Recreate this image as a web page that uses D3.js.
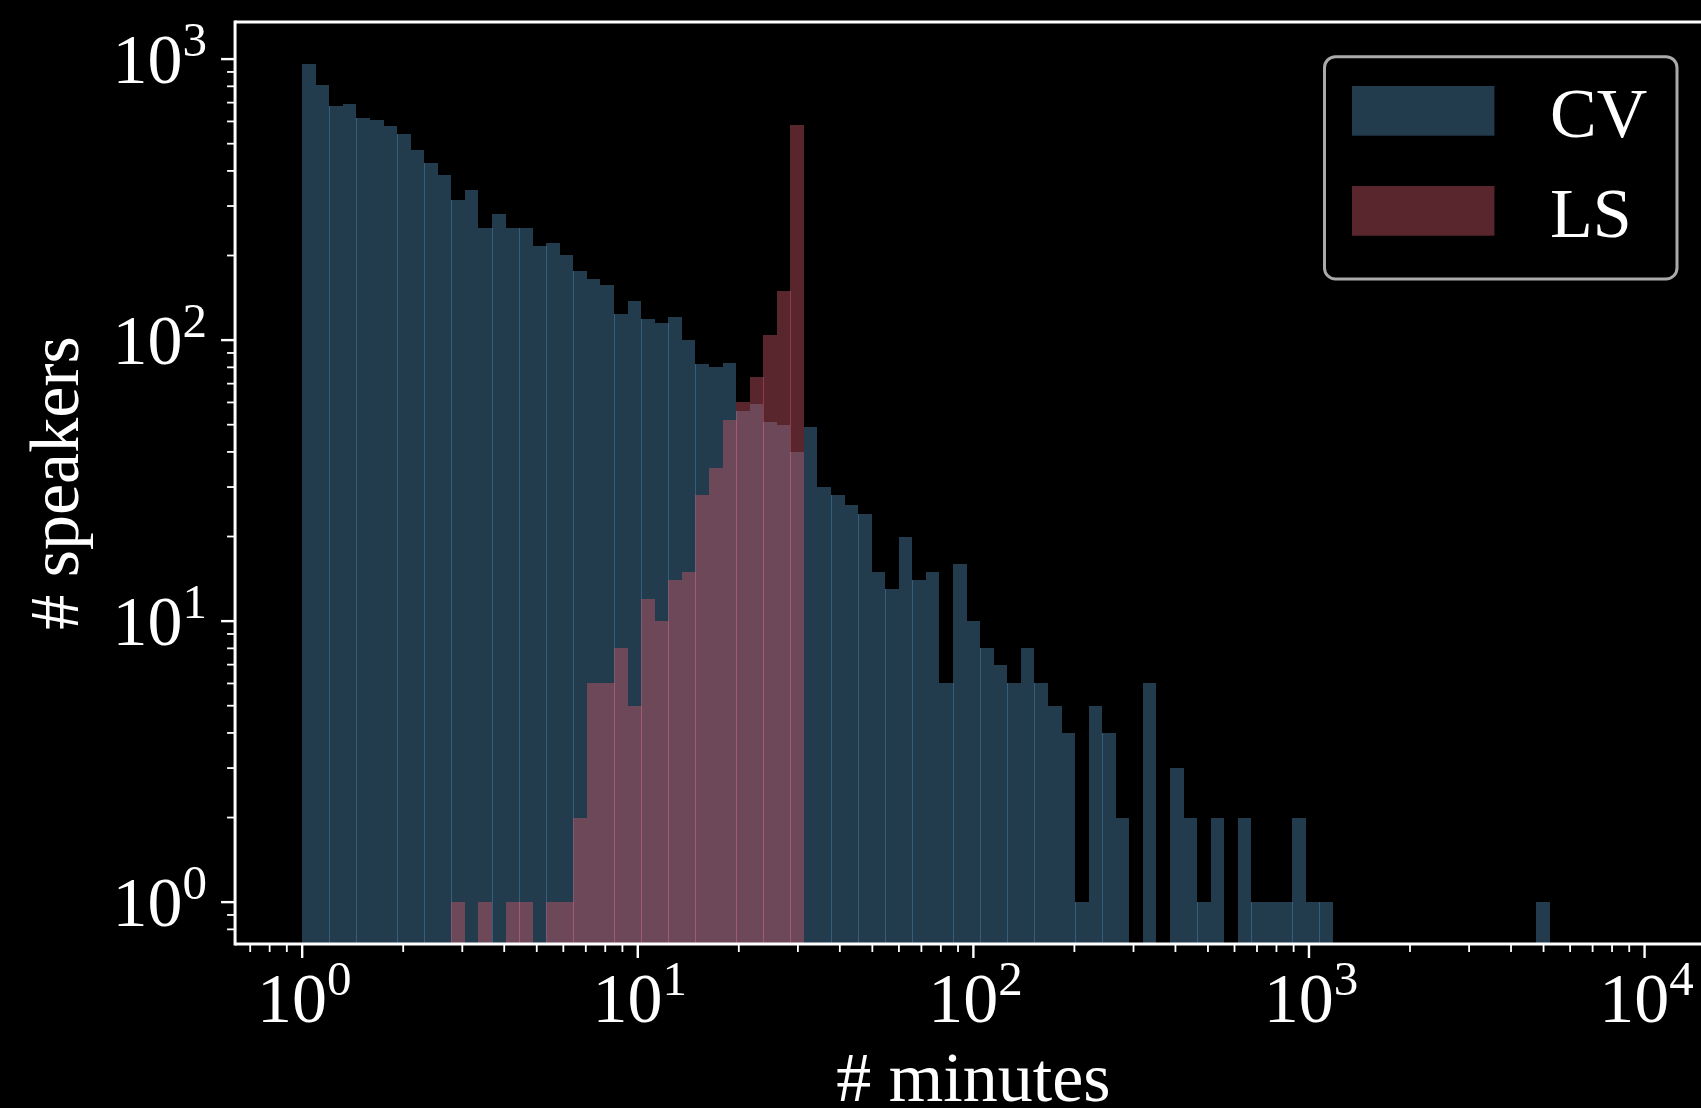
<!DOCTYPE html>
<html>
<head>
<meta charset="utf-8">
<script src="https://cdn.jsdelivr.net/npm/d3@7/dist/d3.min.js"></script>
<style>
  html, body { margin: 0; padding: 0; background: #000; }
  svg { display: block; }
  text { font-family: "Liberation Serif", "Times New Roman", serif; fill: #fff; }
</style>
</head>
<body>
<svg id="chart" width="1701" height="1108"></svg>
<script>
// ---- data ----
// histogram bins: np.logspace(0, 4, 100) -> 99 log-spaced bins from 1 to 10^4 minutes
const BIN_COUNT = 99;
const binEdges = d3.range(BIN_COUNT + 1).map(k => Math.pow(10, 4 * k / BIN_COUNT));

// # speakers per bin, CV
const cvCounts = [
  961, 809, 681, 692, 617, 607, 578, 541, 475, 427,
  387, 315, 342, 250, 281, 250, 250, 216, 221, 201,
  176, 165, 157, 124, 138, 119, 115, 121, 100, 82,
  80, 83, 56, 59, 51, 50, 40, 49, 30, 28,
  26, 24, 15, 13, 20, 14, 15, 6, 16, 10,
  8, 7, 6, 8, 6, 5, 4, 1, 5, 4,
  2, 0, 6, 0, 3, 2, 1, 2, 0, 2,
  1, 1, 1, 2, 1, 1, 0, 0, 0, 0,
  0, 0, 0, 0, 0, 0, 0, 0, 0, 0,
  0, 1, 0, 0, 0, 0, 0, 0, 0
];
// # speakers per bin, LS
const lsCounts = [
  0, 0, 0, 0, 0, 0, 0, 0, 0, 0,
  0, 1, 0, 1, 0, 1, 1, 0, 1, 1,
  2, 6, 6, 8, 5, 12, 10, 14, 15, 28,
  35, 52, 60, 74, 104, 149, 583, 0, 0, 0,
  0, 0, 0, 0, 0, 0, 0, 0, 0, 0,
  0, 0, 0, 0, 0, 0, 0, 0, 0, 0,
  0, 0, 0, 0, 0, 0, 0, 0, 0, 0,
  0, 0, 0, 0, 0, 0, 0, 0, 0, 0,
  0, 0, 0, 0, 0, 0, 0, 0, 0, 0,
  0, 0, 0, 0, 0, 0, 0, 0, 0
];
const seriesNames = ["CV", "LS"];
const xTickExponents = [0, 1, 2, 3, 4];
const yTickExponents = [0, 1, 2, 3];
const xLabel = "# minutes";
const yLabel = "# speakers";

// ---- layout ----
const W = 1701, H = 1108;
const pLeft = 235.06, pRight = 1711.7, pTop = 22, pBottom = 944;
const FONT = 70, SUP = 49;

const svg = d3.select("#chart");
svg.append("rect").attr("width", W).attr("height", H).attr("fill", "#000");

const x = d3.scaleLog().domain([Math.pow(10, -0.2), Math.pow(10, 4.2)]).range([pLeft, pRight]);
const y = d3.scaleLog().domain([Math.pow(10, -0.149), Math.pow(10, 3.132)]).range([pBottom, pTop]);

svg.append("clipPath").attr("id", "plotclip")
  .append("rect").attr("x", pLeft).attr("y", pTop).attr("width", pRight - pLeft).attr("height", pBottom - pTop);

const plot = svg.append("g").attr("clip-path", "url(#plotclip)");

const series = [
  { name: seriesNames[0], counts: cvCounts, color: "rgb(85,148,193)", opacity: 0.4 },
  { name: seriesNames[1], counts: lsCounts, color: "rgb(214,90,107)", opacity: 0.42 }
];

series.forEach(s => {
  const g = plot.append("g").attr("fill", s.color).attr("fill-opacity", s.opacity);
  const bars = s.counts.map((c, i) => ({ c, i })).filter(d => d.c > 0);
  g.selectAll("rect.bar").data(bars).join("rect")
    .attr("class", "bar")
    .attr("shape-rendering", "crispEdges")
    .attr("x", d => x(binEdges[d.i]))
    .attr("width", d => x(binEdges[d.i + 1]) - x(binEdges[d.i]))
    .attr("y", d => y(d.c))
    .attr("height", d => pBottom + 5 - y(d.c));
  // antialiasing seams where adjacent bars meet at a fractional pixel
  const seams = [];
  for (let k = 1; k < s.counts.length; k++) {
    const a = s.counts[k - 1], b = s.counts[k];
    if (a > 0 && b > 0) {
      const xe = x(binEdges[k]);
      const frac = xe - Math.floor(xe);
      if (frac < 0.42) seams.push({ k, v: Math.min(a, b), px: Math.floor(xe) });
    }
  }
  g.selectAll("rect.seam").data(seams).join("rect")
    .attr("class", "seam")
    .attr("shape-rendering", "crispEdges")
    .attr("x", d => d.px)
    .attr("width", 1)
    .attr("y", d => y(d.v))
    .attr("height", d => pBottom + 5 - y(d.v));
});

// ---- axes ----
const axisG = svg.append("g");
const SPINE = 3;
axisG.append("line").attr("x1", pLeft).attr("x2", W + 5).attr("y1", pTop).attr("y2", pTop)
  .attr("stroke", "#fff").attr("stroke-width", SPINE);
axisG.append("line").attr("x1", pLeft).attr("x2", W + 5).attr("y1", pBottom).attr("y2", pBottom)
  .attr("stroke", "#fff").attr("stroke-width", SPINE);
axisG.append("line").attr("x1", pLeft).attr("x2", pLeft).attr("y1", pTop - SPINE / 2).attr("y2", pBottom + SPINE / 2)
  .attr("stroke", "#fff").attr("stroke-width", SPINE);

// x ticks (major + minor)
const xMajor = xTickExponents.map(e => Math.pow(10, e));
const xMinor = [];
for (let e = -1; e <= 4; e++) for (let m = 2; m <= 9; m++) {
  const v = m * Math.pow(10, e);
  if (v >= x.domain()[0] && v <= x.domain()[1]) xMinor.push(v);
}
axisG.selectAll("line.xminor").data(xMinor).join("line").attr("class", "xminor")
  .attr("x1", d => x(d)).attr("x2", d => x(d)).attr("y1", pBottom).attr("y2", pBottom + 8)
  .attr("stroke", "#fff").attr("stroke-width", 1.8);
axisG.selectAll("line.xmajor").data(xMajor).join("line").attr("class", "xmajor")
  .attr("x1", d => x(d)).attr("x2", d => x(d)).attr("y1", pBottom).attr("y2", pBottom + 14)
  .attr("stroke", "#fff").attr("stroke-width", 2.4);

const xLab = axisG.selectAll("text.xtick").data(xTickExponents).join("text").attr("class", "xtick")
  .attr("x", d => x(Math.pow(10, d)) + 2).attr("y", 1022)
  .attr("text-anchor", "middle").attr("font-size", FONT);
xLab.append("tspan").text("10");
xLab.append("tspan").attr("font-size", SUP).attr("dy", -27).text(d => String(d));

// y ticks
const yMajor = yTickExponents.map(e => Math.pow(10, e));
const yMinor = [];
for (let e = -1; e <= 3; e++) for (let m = 2; m <= 9; m++) {
  const v = m * Math.pow(10, e);
  if (v >= y.domain()[0] && v <= y.domain()[1]) yMinor.push(v);
}
axisG.selectAll("line.yminor").data(yMinor).join("line").attr("class", "yminor")
  .attr("y1", d => y(d)).attr("y2", d => y(d)).attr("x1", pLeft - 8).attr("x2", pLeft)
  .attr("stroke", "#fff").attr("stroke-width", 1.8);
axisG.selectAll("line.ymajor").data(yMajor).join("line").attr("class", "ymajor")
  .attr("y1", d => y(d)).attr("y2", d => y(d)).attr("x1", pLeft - 14).attr("x2", pLeft)
  .attr("stroke", "#fff").attr("stroke-width", 2.4);

const yLab = axisG.selectAll("text.ytick").data(yTickExponents).join("text").attr("class", "ytick")
  .attr("x", 207).attr("y", d => y(Math.pow(10, d)) + 24)
  .attr("text-anchor", "end").attr("font-size", FONT);
yLab.append("tspan").text("10");
yLab.append("tspan").attr("font-size", SUP).attr("dy", -27).text(d => String(d));

// axis labels
svg.append("text").attr("x", (pLeft + pRight) / 2).attr("y", 1101)
  .attr("text-anchor", "middle").attr("font-size", FONT).text(xLabel);
svg.append("text").attr("transform", `translate(78,${(pTop + pBottom) / 2}) rotate(-90)`)
  .attr("text-anchor", "middle").attr("font-size", FONT).text(yLabel);

// ---- legend ----
const lg = svg.append("g");
lg.append("rect").attr("x", 1324.5).attr("y", 56.7).attr("width", 352.5).attr("height", 222.3)
  .attr("rx", 11).attr("ry", 11).attr("fill", "#000").attr("stroke", "#aaaaaa").attr("stroke-width", 3);
series.forEach((s, i) => {
  const yy = 86 + i * 100;
  lg.append("rect").attr("x", 1352).attr("y", yy).attr("width", 142.4).attr("height", 49.7)
    .attr("fill", s.color).attr("fill-opacity", s.opacity);
  lg.append("text").attr("x", 1550).attr("y", yy + 51).attr("font-size", FONT).text(s.name);
});
</script>
</body>
</html>
